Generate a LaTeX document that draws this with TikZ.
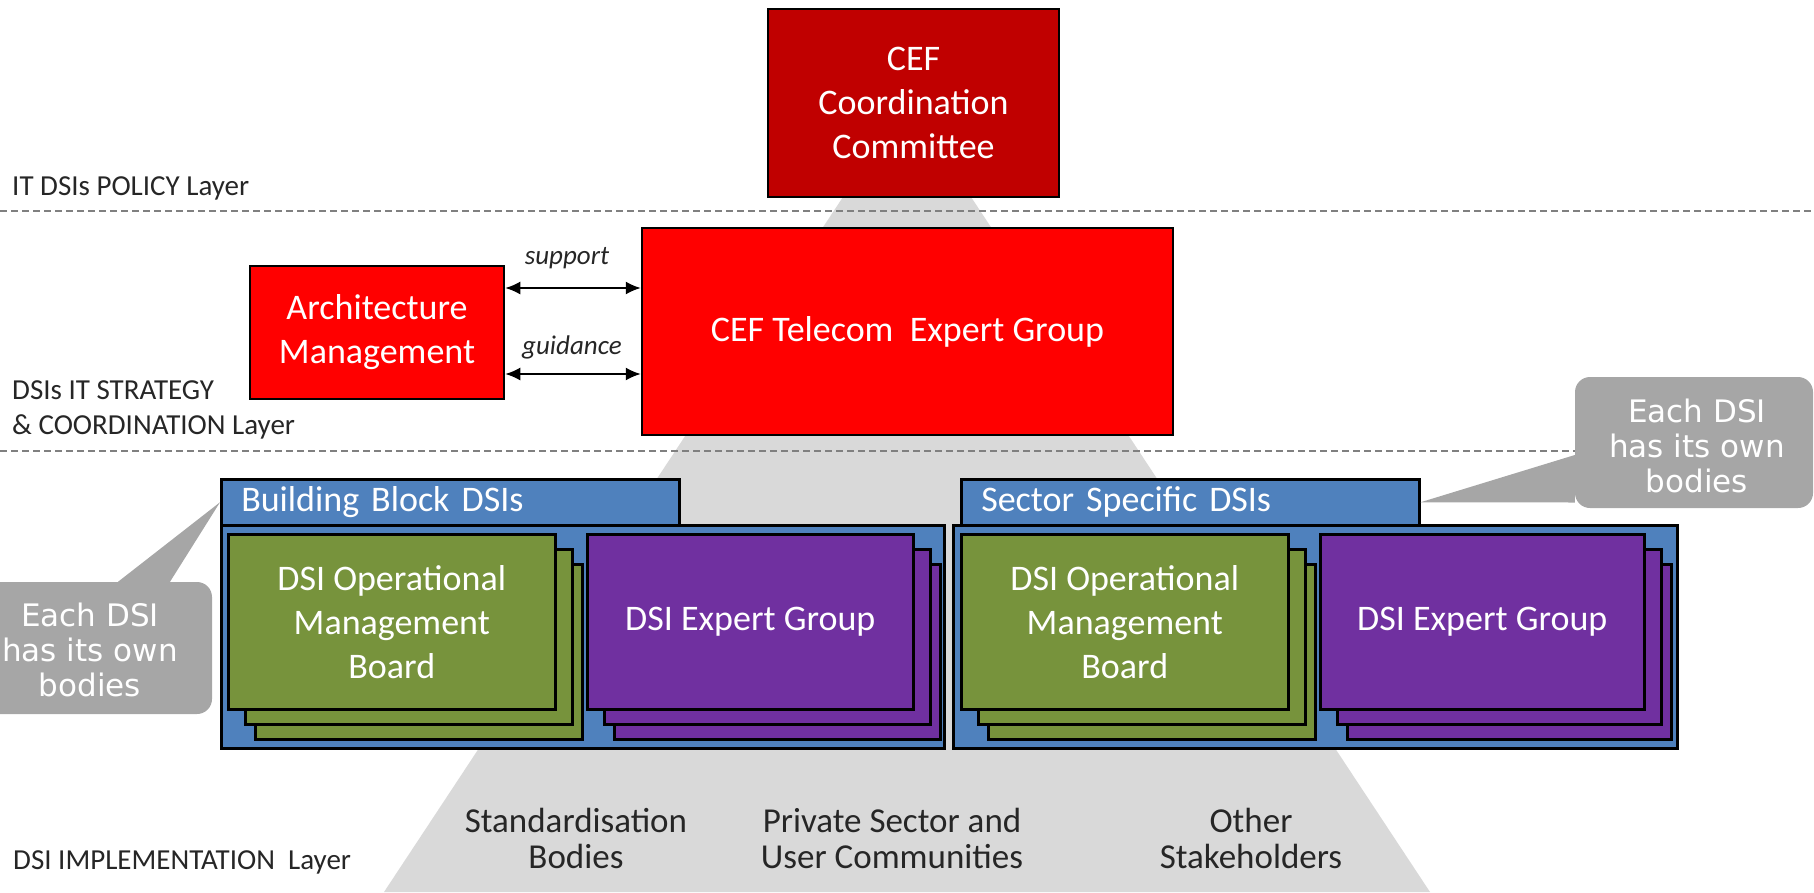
\documentclass[tikz,border=0pt]{standalone}
\usepackage{fontspec}
\setmainfont{Carlito}
\newfontfamily\callfont{DejaVu Sans}
\usepackage{xcolor}
\usetikzlibrary{arrows.meta}
\usetikzlibrary{positioning}

\definecolor{ccred}{HTML}{C00000}
\definecolor{tgred}{HTML}{FF0000}
\definecolor{dsiblue}{HTML}{4F81BD}
\definecolor{dsigreen}{HTML}{77933C}
\definecolor{dsipurple}{HTML}{7030A0}
\definecolor{callgray}{HTML}{A6A6A6}
\definecolor{pyrgray}{HTML}{D9D9D9}
\definecolor{inkgray}{HTML}{262626}

\begin{document}
\begin{tikzpicture}[x=1pt,y=-1pt,
    body/.style={draw=black, line width=2.5pt, inner sep=0pt, text=white, align=center, font=\fontsize{36}{44}\selectfont},
    stack/.style={body, anchor=north west, minimum height=175pt},
    hdr/.style={draw=black, line width=2.5pt, fill=dsiblue, anchor=north west, minimum height=46pt, inner xsep=20pt, inner ysep=0pt, text width=418pt, align=left, text=white, font=\fontsize{36}{40}\selectfont},
    outer/.style={draw=black, line width=2.5pt, fill=dsiblue, anchor=north west, minimum width=723pt, minimum height=223pt, inner sep=0pt},
    callbox/.style={fill=callgray, rounded corners=15pt, inner sep=0pt},
    calltext/.style={text=white, align=center, font=\callfont\fontsize{31}{35}\selectfont},
    layertext/.style={anchor=west, align=left, inner sep=0pt, text=inkgray, font=\fontsize{29}{35}\selectfont},
    groups/.style={align=center, text=inkgray, font=\fontsize{35}{36}\selectfont},
    twoway/.style={{Latex[length=15pt,width=13pt]}-{Latex[length=15pt,width=13pt]}, line width=1.8pt},
    layerline/.style={draw=gray, line width=1.2pt, dash pattern=on 7pt off 4pt}]

    \useasboundingbox (0,0) rectangle (1814,892);
    \clip (0,0) rectangle (1814,892);

    % pyramid behind everything
    \fill[pyrgray] (907,100) -- (1430,892) -- (384,892) -- cycle;

    % layer borders
    \draw[layerline] (0,211) -- (1814,211);
    \draw[layerline] (0,451) -- (1814,451);

    \node[layertext] (pol) at (12,188) {IT DSIs POLICY Layer};
    \node[layertext] (strat) at (12,410) {DSIs IT STRATEGY\\\& COORDINATION Layer};
    \node[layertext] (impl) at (13,862) {DSI IMPLEMENTATION\ \ Layer};

    % policy and strategy bodies
    \node[body, fill=ccred, minimum width=291pt, minimum height=188pt] (cc) at (913.5,103) {CEF\\Coordination\\Committee};
    \node[body, fill=tgred, minimum width=531pt, minimum height=207pt] (tg) at (907.5,331.5) {CEF Telecom\ \ Expert Group};
    \node[body, fill=tgred, minimum width=254pt, minimum height=133pt] (arch) at (377,332.5) {Architecture\\Management};

    \node[font=\itshape\fontsize{27}{30}\selectfont, text=inkgray] (sup) at (567,258) {support};
    \node[font=\itshape\fontsize{27}{30}\selectfont, text=inkgray] (gui) at (572,347) {guidance};
    \draw[twoway] (arch.east |- 0,288) -- (tg.west |- 0,288);
    \draw[twoway] (arch.east |- 0,374) -- (tg.west |- 0,374);

    % building block DSIs
    \node[hdr] (bbh) at (220,478) {Building Block DSIs};
    \node[outer] (bbo) at (220,524) {};
    \node[stack, fill=dsigreen, minimum width=327pt] (omlc) at (254,563) {};
    \node[stack, fill=dsigreen, minimum width=327pt] (omlb) at (244,548) {};
    \node[stack, fill=dsigreen, minimum width=327pt] (oml) at (227,533) {DSI Operational\\Management\\Board};
    \node[stack, fill=dsipurple, minimum width=326pt] (eglc) at (613,563) {};
    \node[stack, fill=dsipurple, minimum width=326pt] (eglb) at (603,548) {};
    \node[stack, fill=dsipurple, minimum width=326pt] (egl) at (586,533) {DSI Expert Group};

    % sector specific DSIs
    \node[hdr] (ssh) at (960,478) {Sector Specific DSIs};
    \node[outer, minimum width=724pt] (sso) at (952,524) {};
    \node[stack, fill=dsigreen, minimum width=327pt] (omrc) at (987,563) {};
    \node[stack, fill=dsigreen, minimum width=327pt] (omrb) at (977,548) {};
    \node[stack, fill=dsigreen, minimum width=327pt] (omr) at (960,533) {DSI Operational\\Management\\Board};
    \node[stack, fill=dsipurple, minimum width=324pt] (egrc) at (1346,563) {};
    \node[stack, fill=dsipurple, minimum width=324pt] (egrb) at (1336,548) {};
    \node[stack, fill=dsipurple, minimum width=324pt] (egr) at (1319,533) {DSI Expert Group};

    % callouts
    \node[callbox, minimum width=244pt, minimum height=132pt] (noteL) at (90,648) {};
    \fill[callgray] ([xshift=28pt]noteL.north) -- (bbh.west) -- ([xshift=80pt]noteL.north) -- cycle;
    \node[calltext] (noteLt) at (90,650) {Each DSI\\has its own\\bodies};
    \node[callbox, minimum width=238pt, minimum height=131pt] (noteR) at (1694,442.5) {};
    \fill[callgray] ([yshift=-12.5pt]noteR.west) -- (ssh.east) -- ([yshift=-60pt]noteR.west) -- cycle;
    \node[calltext] (noteRt) at (1697,446) {Each DSI\\has its own\\bodies};

    % implementation groups
    \node[groups] (std) at (576,838.5) {Standardisation\\Bodies};
    \node[groups] (priv) at (892,838.5) {Private Sector and\\User Communities};
    \node[groups] (oth) at (1251,838.5) {Other\\Stakeholders};

\end{tikzpicture}
\end{document}
